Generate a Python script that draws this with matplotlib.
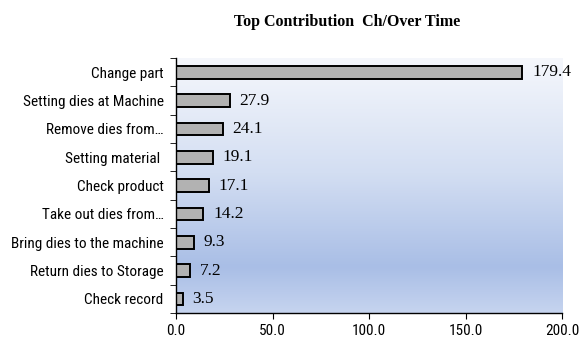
import numpy as np
import matplotlib
matplotlib.use("Agg")
import matplotlib.pyplot as plt
from matplotlib.colors import LinearSegmentedColormap

TITLE = "Top Contribution  Ch/Over Time"
CATEGORIES = [
    "Change part",
    "Setting dies at Machine",
    "Remove dies from\u2026",
    "Setting material ",
    "Check product",
    "Take out dies from\u2026",
    "Bring dies to the machine",
    "Return dies to Storage",
    "Check record",
]
VALUES = [179.4, 27.9, 24.1, 19.1, 17.1, 14.2, 9.3, 7.2, 3.5]
X_TICKS = [0, 50, 100, 150, 200]

SANS = ["Roboto Condensed", "Archivo Narrow", "DejaVu Sans"]
SERIF = ["Liberation Serif", "DejaVu Serif"]

fig = plt.figure(figsize=(5.79, 3.44), dpi=100)
ax = fig.add_axes([0.304, 0.090, 0.667, 0.741])

n = len(CATEGORIES)
ypos = np.arange(n)[::-1]

# background gradient (light at top, blue near bottom)
cmap = LinearSegmentedColormap.from_list(
    "bg", [(0.0, "#f5f7fc"), (0.45, "#d3def2"), (0.82, "#a9bee6"), (1.0, "#c6d4ef")])
grad = np.linspace(0, 1, 256).reshape(-1, 1)
ax.imshow(grad, cmap=cmap, aspect="auto", extent=[0, 200, -0.5, n - 0.5],
          origin="upper", zorder=0)

ax.barh(ypos, VALUES, height=0.45, color="#b2b2b2", edgecolor="black",
        linewidth=1.4, zorder=2)

for y, v in zip(ypos, VALUES):
    ax.text(v + 5, y, f"{v:.1f}", va="center", ha="left",
            family=SERIF, fontsize=12.5, zorder=3)

ax.set_xlim(0, 200)
ax.set_ylim(-0.5, n - 0.5)
ax.set_xticks(X_TICKS)
ax.set_xticklabels([f"{t:.1f}" for t in X_TICKS], family=SANS, fontsize=11)
ax.set_yticks(ypos)
ax.set_yticklabels(CATEGORIES, family=SANS, fontsize=11)
ax.set_yticks(np.arange(-0.5, n, 1.0), minor=True)
ax.tick_params(axis="y", which="major", length=0, pad=9)
ax.tick_params(axis="y", which="minor", length=4, direction="out")
ax.tick_params(axis="x", length=4, direction="out", pad=4)

for s in ["top", "right"]:
    ax.spines[s].set_visible(False)
ax.spines["left"].set_linewidth(1.0)
ax.spines["bottom"].set_linewidth(1.0)

fig.text(0.60, 0.937, TITLE, ha="center", va="center",
         family=SERIF, fontweight="bold", fontsize=11.5)

fig.savefig("out.png", dpi=100)
